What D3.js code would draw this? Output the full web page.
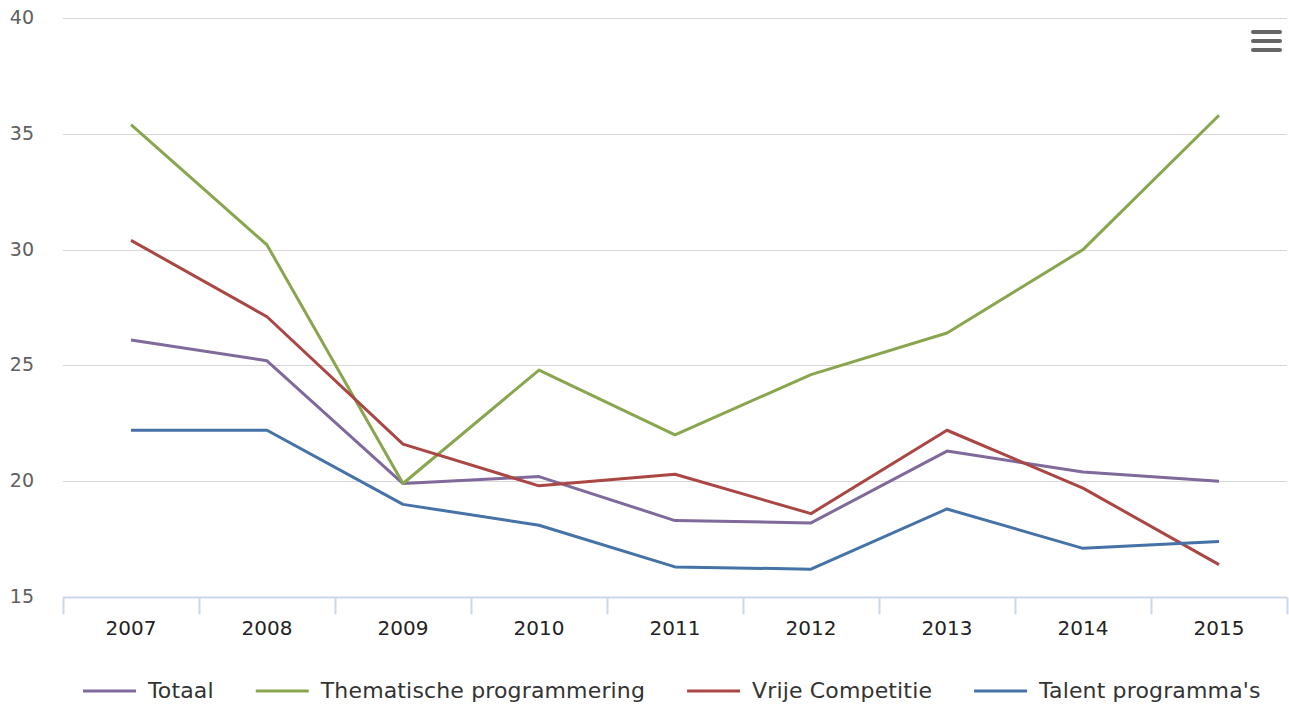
<!DOCTYPE html>
<html>
<head>
<meta charset="utf-8">
<script src="https://cdn.jsdelivr.net/npm/d3@7"></script>
<style>
  body { margin: 0; background: #fff; }
  svg { font-family: "DejaVu Sans", sans-serif; }
</style>
</head>
<body>
<div id="chart"></div>
<script>
const years = ['2007', '2008', '2009', '2010', '2011', '2012', '2013', '2014', '2015'];
const totaal = [26.1, 25.2, 19.9, 20.2, 18.3, 18.2, 21.3, 20.4, 20.0];
const thematisch = [35.4, 30.2, 19.9, 24.8, 22.0, 24.6, 26.4, 30.0, 35.8];
const vrije = [30.4, 27.1, 21.6, 19.8, 20.3, 18.6, 22.2, 19.7, 16.4];
const talent = [22.2, 22.2, 19.0, 18.1, 16.3, 16.2, 18.8, 17.1, 17.4];
const yTicks = [15, 20, 25, 30, 35, 40];

const series = [
  { name: 'Totaal', values: totaal, color: '#80699b' },
  { name: 'Thematische programmering', values: thematisch, color: '#89a54e' },
  { name: 'Vrije Competitie', values: vrije, color: '#aa4643' },
  { name: "Talent programma's", values: talent, color: '#4572a7' }
];

const width = 1289, height = 704;
const margin = { top: 18, right: 2, bottom: 107, left: 63 };

const svg = d3.select('#chart').append('svg')
  .attr('width', width)
  .attr('height', height);

const x = d3.scaleBand()
  .domain(years)
  .range([margin.left, width - margin.right]);

const y = d3.scaleLinear()
  .domain([15, 40])
  .range([height - margin.bottom, margin.top]);

// grid lines
svg.append('g')
  .selectAll('line')
  .data(yTicks.slice(1))
  .join('line')
    .attr('x1', margin.left)
    .attr('x2', width - margin.right)
    .attr('y1', d => Math.round(y(d)) + 0.5)
    .attr('y2', d => Math.round(y(d)) + 0.5)
    .attr('stroke', '#d8d8d8')
    .attr('stroke-width', 1);

// y labels
svg.append('g')
  .selectAll('text')
  .data(yTicks)
  .join('text')
    .attr('x', 34)
    .attr('y', d => y(d) + 6)
    .attr('text-anchor', 'end')
    .attr('fill', '#606060')
    .attr('font-size', 19)
    .text(d => d);

// x axis
const xAxis = svg.append('g')
  .attr('transform', `translate(0,${Math.round(y(15)) + 0.5})`);

xAxis.append('line')
  .attr('x1', margin.left)
  .attr('x2', width - margin.right)
  .attr('stroke', '#ccd6eb')
  .attr('stroke-width', 2);

const tickPos = years.map(d => x(d)).concat([x(years[years.length - 1]) + x.bandwidth()]);
xAxis.selectAll('.tick')
  .data(tickPos)
  .join('line')
    .attr('class', 'tick')
    .attr('x1', d => Math.round(d) + 0.5)
    .attr('x2', d => Math.round(d) + 0.5)
    .attr('y1', 0)
    .attr('y2', 17)
    .attr('stroke', '#ccd6eb')
    .attr('stroke-width', 2);

xAxis.selectAll('text')
  .data(years)
  .join('text')
    .attr('x', d => x(d) + x.bandwidth() / 2)
    .attr('y', 37)
    .attr('text-anchor', 'middle')
    .attr('fill', '#222')
    .attr('font-size', 20)
    .text(d => d);

// lines
const line = d3.line()
  .x((d, i) => x(years[i]) + x.bandwidth() / 2)
  .y(d => y(d));

svg.append('g')
  .selectAll('path')
  .data(series)
  .join('path')
    .attr('d', d => line(d.values))
    .attr('fill', 'none')
    .attr('stroke', d => d.color)
    .attr('stroke-width', 3)
    .attr('stroke-linejoin', 'round');

// legend
const legend = svg.append('g').attr('transform', 'translate(0,698)');
let lx = 83;
series.forEach(s => {
  const g = legend.append('g').attr('transform', `translate(${lx},0)`);
  g.append('line')
    .attr('x1', 0).attr('x2', 53)
    .attr('y1', -7).attr('y2', -7)
    .attr('stroke', s.color)
    .attr('stroke-width', 3);
  const t = g.append('text')
    .attr('x', 65)
    .attr('y', 0)
    .attr('fill', '#333')
    .attr('font-size', 22)
    .attr('letter-spacing', 0.15)
    .text(s.name);
  lx += 65 + t.node().getComputedTextLength() + 42;
});

// menu icon
svg.append('g')
  .selectAll('line')
  .data([32, 41, 50])
  .join('line')
    .attr('x1', 1253).attr('x2', 1280)
    .attr('y1', d => d).attr('y2', d => d)
    .attr('stroke', '#666')
    .attr('stroke-width', 4)
    .attr('stroke-linecap', 'round');
</script>
</body>
</html>
